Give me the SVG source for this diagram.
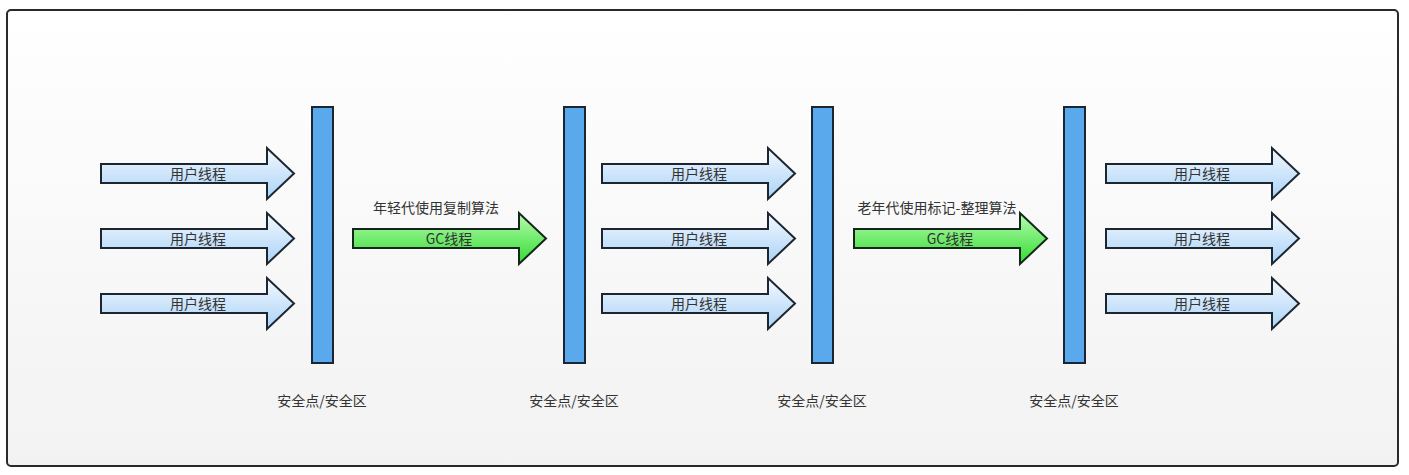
<svg xmlns="http://www.w3.org/2000/svg" width="1409" height="475" viewBox="0 0 1409 475">
<style>
text{font-family:"Noto Sans CJK SC","Liberation Sans",sans-serif;font-size:14px;fill:#333;text-anchor:middle}
.ua{fill:url(#gu);stroke:#1c2630;stroke-width:2;stroke-linejoin:miter}
.ga{fill:url(#gg);stroke:#14261a;stroke-width:2;stroke-linejoin:miter}
.bar{fill:#5aa9ec;stroke:#1c2630;stroke-width:2}
</style>
<defs>
<linearGradient id="bg" x1="0" y1="0" x2="0" y2="1"><stop offset="0" stop-color="#ffffff"/><stop offset="1" stop-color="#f2f2f2"/></linearGradient>
<linearGradient id="gu" x1="0" y1="0" x2="0" y2="1"><stop offset="0" stop-color="#f4f9ff"/><stop offset="1" stop-color="#a9d2f7"/></linearGradient>
<linearGradient id="gg" x1="0" y1="0" x2="0" y2="1"><stop offset="0" stop-color="#b8fbb0"/><stop offset="1" stop-color="#30dc30"/></linearGradient>
<path id="arr" d="M0,-9.5 H166 V-25.5 L193,0 L166,25.5 V9.5 H0 Z"/>
</defs>
<rect x="7" y="10" width="1391" height="456" rx="4" fill="url(#bg)" stroke="#2a2a2a" stroke-width="2"/>
<g id="connectors"/>
<g id="u1"><use href="#arr" class="ua" x="101" y="173.5"/><text x="198" y="178.5">用户线程</text></g>
<g id="u2"><use href="#arr" class="ua" x="101" y="238.5"/><text x="198" y="243.5">用户线程</text></g>
<g id="u3"><use href="#arr" class="ua" x="101" y="303.5"/><text x="198" y="308.5">用户线程</text></g>
<g id="bar1"><rect class="bar" x="312" y="107" width="21" height="256"/><text x="322" y="406">安全点/安全区</text></g>
<g id="gc1"><text x="436" y="213">年轻代使用复制算法</text><use href="#arr" class="ga" x="353" y="238.5"/><text x="449" y="243.5">GC线程</text></g>
<g id="bar2"><rect class="bar" x="564" y="107" width="21" height="256"/><text x="574" y="406">安全点/安全区</text></g>
<g id="u4"><use href="#arr" class="ua" x="602" y="173.5"/><text x="699" y="178.5">用户线程</text></g>
<g id="u5"><use href="#arr" class="ua" x="602" y="238.5"/><text x="699" y="243.5">用户线程</text></g>
<g id="u6"><use href="#arr" class="ua" x="602" y="303.5"/><text x="699" y="308.5">用户线程</text></g>
<g id="bar3"><rect class="bar" x="812" y="107" width="21" height="256"/><text x="822" y="406">安全点/安全区</text></g>
<g id="gc2"><text x="937" y="213">老年代使用标记-整理算法</text><use href="#arr" class="ga" x="854" y="238.5"/><text x="950" y="243.5">GC线程</text></g>
<g id="bar4"><rect class="bar" x="1064" y="107" width="21" height="256"/><text x="1074" y="406">安全点/安全区</text></g>
<g id="u7"><use href="#arr" class="ua" x="1106" y="173.5"/><text x="1202" y="178.5">用户线程</text></g>
<g id="u8"><use href="#arr" class="ua" x="1106" y="238.5"/><text x="1202" y="243.5">用户线程</text></g>
<g id="u9"><use href="#arr" class="ua" x="1106" y="303.5"/><text x="1202" y="308.5">用户线程</text></g>
</svg>
